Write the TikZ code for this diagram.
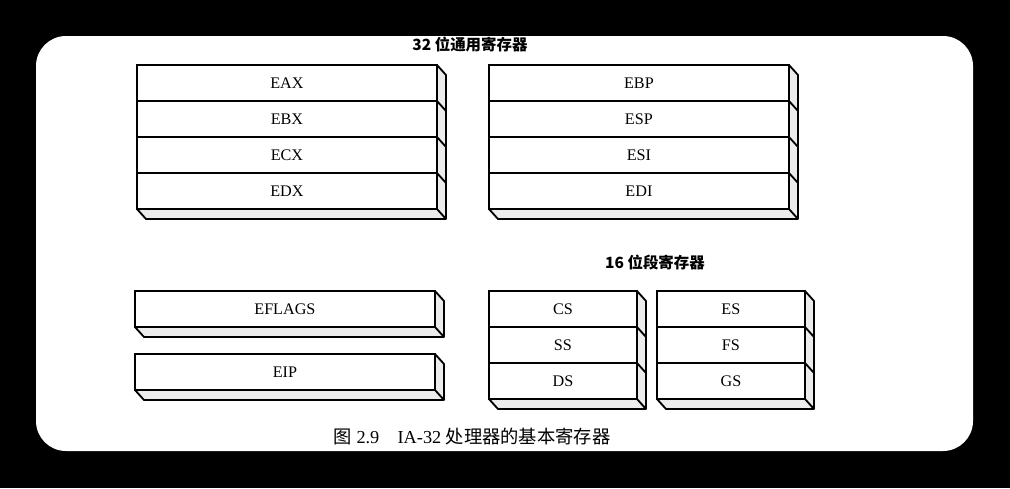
\documentclass[tikz,border=0pt]{standalone}
\usepackage{fontspec}
\setmainfont{Liberation Serif}
\newfontfamily\cjk{Noto Sans CJK SC}
\usetikzlibrary{matrix,positioning,calc}

\tikzset{
  reg/.style={draw, line width=1.3pt, minimum height=9mm, anchor=center, inner sep=0pt,
    font=\fontsize{11.5}{12}\selectfont},
  regstack/.style={matrix of nodes, row sep=-1.3pt, inner sep=0pt, outer sep=0pt, anchor=north west},
  slab/.style={draw, line width=1.3pt, fill=gray!15, line join=round},
  heading/.style={font=\cjk\bfseries\fontsize{11}{12}\selectfont},
}

\begin{document}
\begin{tikzpicture}[x=0.25mm, y=-0.25mm]
% Frame
\fill (0,0) rectangle (1010,488);
\fill[white, rounded corners=7.5mm] (36,36) rectangle (973,451);

% Titles
\node[heading] (gptitle) at (470,45) {32 位通用寄存器};
\node[heading] (segtitle) at (655,263) {16 位段寄存器};

% Registers
\matrix (gpa)[regstack, nodes={reg, minimum width=75mm}] at (136,64) {EAX\\EBX\\ECX\\EDX\\};
\matrix (gpb)[regstack, nodes={reg, minimum width=75mm}] at (488,64) {EBP\\ESP\\ESI\\EDI\\};
\matrix (flags)[regstack, nodes={reg, minimum width=75mm}] at (134,290) {EFLAGS\\};
\matrix (ip)[regstack, nodes={reg, minimum width=75mm}] at (134,353) {EIP\\};
\matrix (sega)[regstack, nodes={reg, minimum width=37mm}] at (488,290) {CS\\SS\\DS\\};
\matrix (segb)[regstack, nodes={reg, minimum width=37mm}] at (656,290) {ES\\FS\\GS\\};

% Depth faces
\foreach \m/\n in {gpa/4,gpb/4,flags/1,ip/1,sega/3,segb/3}{
  \draw[slab] (\m-1-1.north east) -- ++(9,10) -- ([shift={(9,10)}]\m-\n-1.south east)
    -- ([shift={(9,10)}]\m-\n-1.south west) -- (\m-\n-1.south west) -- (\m-\n-1.south east) -- cycle;
  \foreach \i in {1,...,\n} \draw[line width=1.3pt] (\m-\i-1.south east) -- ++(9,10);
}

% Caption
\node[font=\fontsize{13}{14}\selectfont] (caption) at (472,437) {{\cjk 图} 2.9\quad IA-32 {\cjk 处理器的基本寄存器}};
\end{tikzpicture}
\end{document}
